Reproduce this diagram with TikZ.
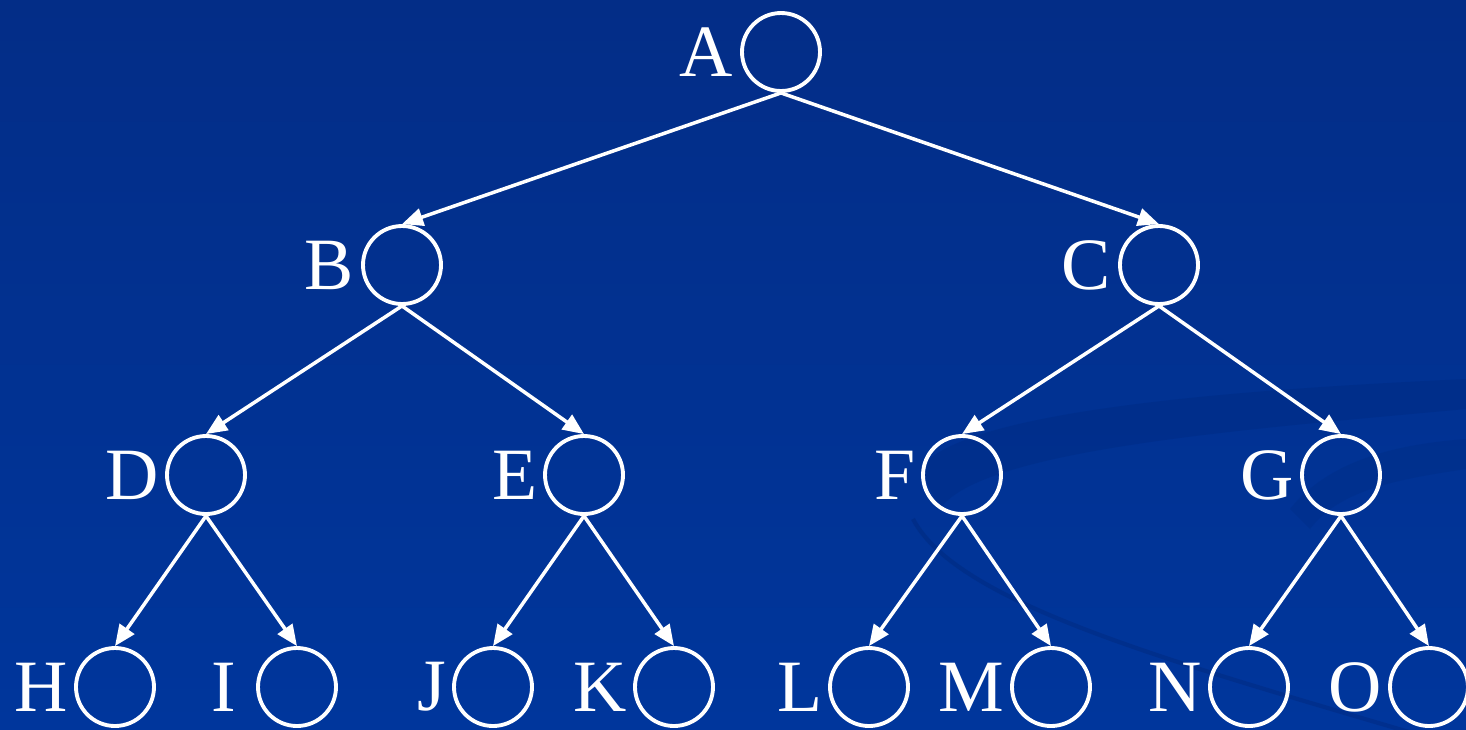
\documentclass[tikz,border=0pt]{standalone}
\usepackage{fontspec}
\setmainfont{Liberation Serif}
\usetikzlibrary{positioning,arrows.meta}

\definecolor{bgtop}{RGB}{3,45,135}
\definecolor{bgbot}{RGB}{0,54,156}
\definecolor{swirl}{RGB}{0,34,110}

\begin{document}
\begin{tikzpicture}[
  vtx/.style={circle, draw=white, line width=1.1pt, inner sep=0pt, minimum size=0.78cm},
  lbl/.style={text=white, inner sep=0pt, font=\fontsize{21}{24}\selectfont},
  arc/.style={draw=white, line width=1pt, -{Triangle[length=6pt, width=5pt]}}
]

  % fondo
  \useasboundingbox (0,0) rectangle (14.66,7.29);
  \shade[top color=bgtop, bottom color=bgbot] (0,0) rectangle (14.66,7.29);
  \begin{scope}
    \clip (0,0) rectangle (14.66,7.29);
    \fill[swirl, opacity=0.2] (9.2,2.6) .. controls (9.6,3.2) and (12.5,3.4) .. (14.66,3.5)
      -- (14.66,3.2) .. controls (12.5,3.0) and (9.8,2.8) .. (9.4,2.2) -- cycle;
    \fill[swirl, opacity=0.16] (12.9,2.2) .. controls (13.3,2.7) and (14.0,2.85) .. (14.66,2.9)
      -- (14.66,2.6) .. controls (14.0,2.5) and (13.4,2.4) .. (13.1,2.0) -- cycle;
    \draw[swirl, opacity=0.3, line width=1.2pt] (9.13,2.1) .. controls (9.6,1.2) and (12.0,0.6) .. (14.66,-0.2);
  \end{scope}

  % vértices
  \node[vtx] (A) at (7.81,6.77) {};
  \node[vtx] (B) at (4.02,4.64) {};
  \node[vtx] (C) at (11.59,4.64) {};
  \node[vtx] (D) at (2.06,2.54) {};
  \node[vtx] (E) at (5.84,2.54) {};
  \node[vtx] (F) at (9.62,2.54) {};
  \node[vtx] (G) at (13.41,2.54) {};
  \node[vtx] (H) at (1.15,0.42) {};
  \node[vtx] (I) at (2.97,0.42) {};
  \node[vtx] (J) at (4.93,0.42) {};
  \node[vtx] (K) at (6.74,0.42) {};
  \node[vtx] (L) at (8.69,0.42) {};
  \node[vtx] (M) at (10.51,0.42) {};
  \node[vtx] (N) at (12.49,0.42) {};
  \node[vtx] (O) at (14.29,0.42) {};

  % etiquetas
  \node[lbl, left=2pt of A] (lA) {A};
  \node[lbl, left=2pt of B] (lB) {B};
  \node[lbl, left=2pt of C] (lC) {C};
  \node[lbl, left=1.5pt of D] (lD) {D};
  \node[lbl, left=1.5pt of E] (lE) {E};
  \node[lbl, left=1.5pt of F] (lF) {F};
  \node[lbl, left=1.5pt of G] (lG) {G};
  \node[lbl, left=1.5pt of H] (lH) {H};
  \node[lbl, left=5.5pt of I] (lI) {I};
  \node[lbl, left=1.5pt of J] (lJ) {J};
  \node[lbl, left=1.5pt of K] (lK) {K};
  \node[lbl, left=1.5pt of L] (lL) {L};
  \node[lbl, left=1.5pt of M] (lM) {M};
  \node[lbl, left=1.5pt of N] (lN) {N};
  \node[lbl, left=1.5pt of O] (lO) {O};

  % aristas
  \draw[arc] (A.south) -- (B.north);
  \draw[arc] (A.south) -- (C.north);
  \draw[arc] (B.south) -- (D.north);
  \draw[arc] (B.south) -- (E.north);
  \draw[arc] (C.south) -- (F.north);
  \draw[arc] (C.south) -- (G.north);
  \draw[arc] (D.south) -- (H.north);
  \draw[arc] (D.south) -- (I.north);
  \draw[arc] (E.south) -- (J.north);
  \draw[arc] (E.south) -- (K.north);
  \draw[arc] (F.south) -- (L.north);
  \draw[arc] (F.south) -- (M.north);
  \draw[arc] (G.south) -- (N.north);
  \draw[arc] (G.south) -- (O.north);
\end{tikzpicture}
\end{document}
